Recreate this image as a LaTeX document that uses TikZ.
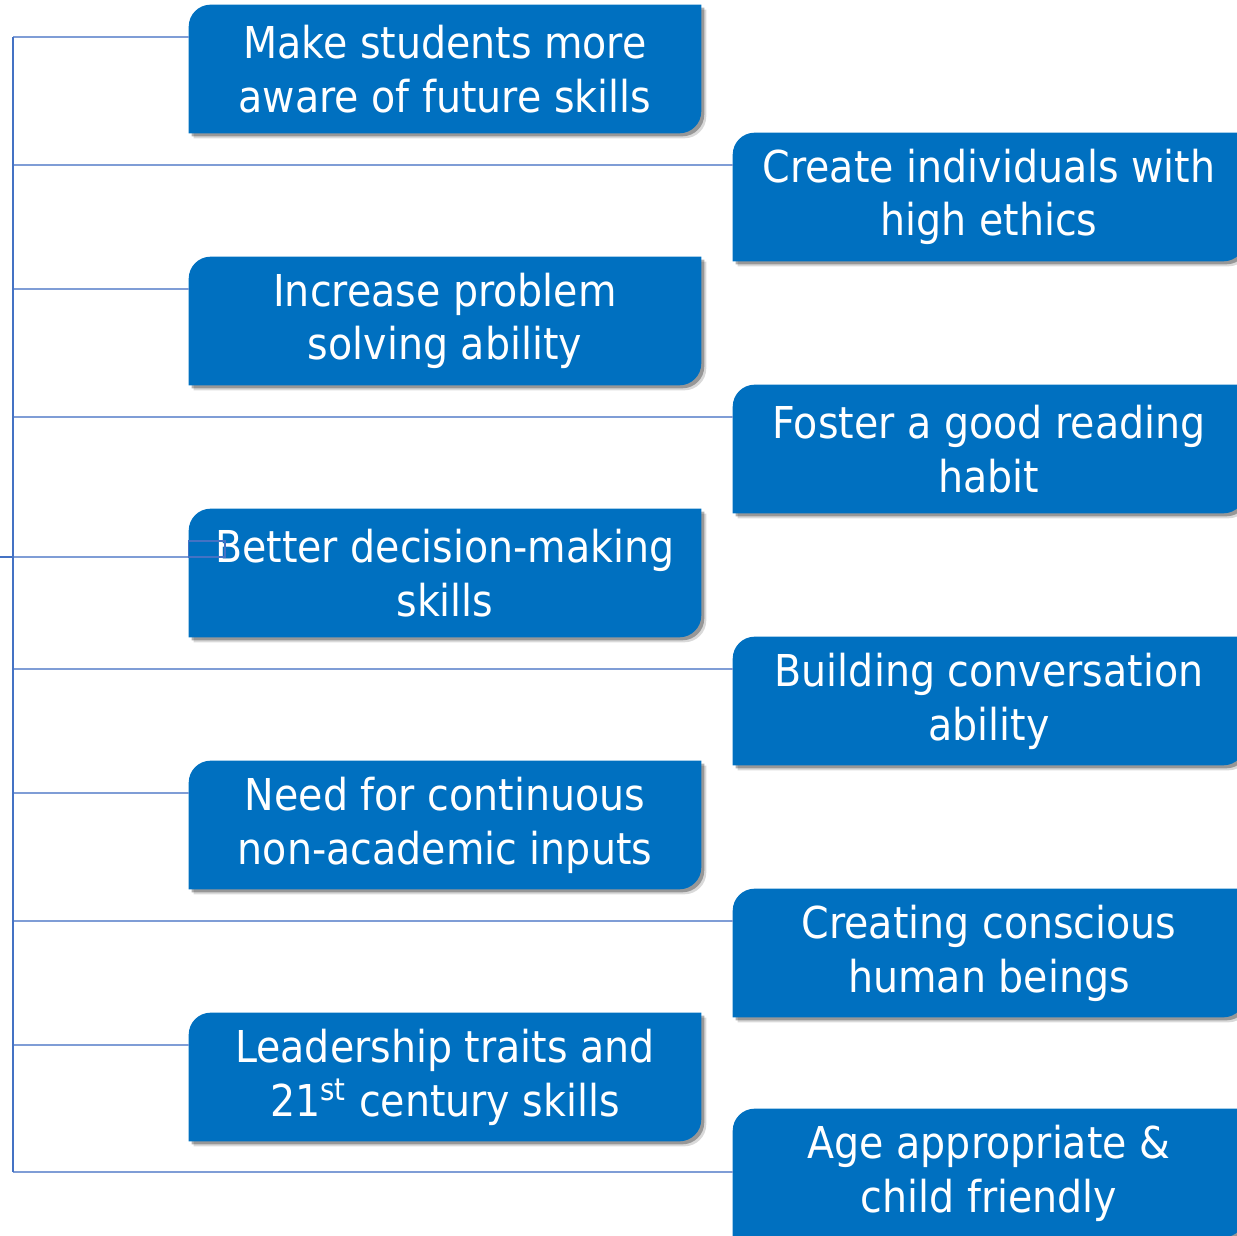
\documentclass[tikz,border=0pt]{standalone}
\usepackage{fontspec}
\setmainfont{DejaVu Sans}[FakeStretch=0.9]
\usetikzlibrary{backgrounds}

\definecolor{boxblue}{RGB}{0,112,192}
\definecolor{linkblue}{RGB}{127,157,214}
\definecolor{trunkblue}{RGB}{68,114,196}

\tikzset{
  skill/.style={text=white, align=center, inner sep=0pt,
    minimum width=10.24cm, minimum height=2.56cm,
    font=\fontsize{25}{30.6}\selectfont},
  link/.style={linkblue, line width=0.03cm},
  trunk/.style={trunkblue, line width=0.04cm},
}

% box outline: top left and bottom right corners rounded
\newcommand{\skillpath}[3]{([xshift=#2,yshift=#3]#1.south west)
  -- ([xshift=#2,yshift=#3,yshift=-0.44cm]#1.north west)
  arc[start angle=180,end angle=90,radius=0.44cm]
  -- ([xshift=#2,yshift=#3]#1.north east)
  -- ([xshift=#2,yshift=#3,yshift=0.44cm]#1.south east)
  arc[start angle=0,end angle=-90,radius=0.44cm] -- cycle}

\begin{document}
\begin{tikzpicture}[x=0.02cm, y=-0.02cm]
  \useasboundingbox (0,0) rectangle (1237,1236);
  \clip (0,0) rectangle (1237,1236);

  % left column
  \node[skill] (s1) at (445,69)   {Make students more\\aware of future skills};
  \node[skill] (s2) at (445,321)  {Increase problem\\solving ability};
  \node[skill] (s3) at (445,573)  {Better decision-making\\skills};
  \node[skill] (s4) at (445,825)  {Need for continuous\\non-academic inputs};
  \node[skill] (s5) at (445,1077) {Leadership traits and\\21\textsuperscript{st} century skills};

  % right column
  \node[skill] (r1) at (989,197)  {Create individuals with\\high ethics};
  \node[skill] (r2) at (989,449)  {Foster a good reading\\habit};
  \node[skill] (r3) at (989,701)  {Building conversation\\ability};
  \node[skill] (r4) at (989,953)  {Creating conscious\\human beings};
  \node[skill] (r5) at (989,1173) {Age appropriate \&\\child friendly};

  % box fills and shadows
  \begin{scope}[on background layer]
    \foreach \b in {s1,s2,s3,s4,s5,r1,r2,r3,r4,r5} {
      \fill[black, opacity=0.15] \skillpath{\b}{0.1cm}{-0.1cm};
      \fill[black, opacity=0.3] \skillpath{\b}{0.06cm}{-0.06cm};
      \fill[boxblue] \skillpath{\b}{0pt}{0pt};
    }
  \end{scope}

  % trunk points
  \coordinate (t1) at (13,37);
  \coordinate (t2) at (13,165);
  \coordinate (t3) at (13,289);
  \coordinate (t4) at (13,417);
  \coordinate (t5) at (13,669);
  \coordinate (t6) at (13,793);
  \coordinate (t7) at (13,921);
  \coordinate (t8) at (13,1045);
  \coordinate (t9) at (13,1172);
  \coordinate (root) at (0,557);

  % branches
  \draw[link] (t1) -- (t1 -| s1.west);
  \draw[link] (t2) -- (t2 -| r1.west);
  \draw[link] (t3) -- (t3 -| s2.west);
  \draw[link] (t4) -- (t4 -| r2.west);
  \draw[link] (root) -- (root -| s3.west);
  \draw[link] (t5) -- (t5 -| r3.west);
  \draw[link] (t6) -- (t6 -| s4.west);
  \draw[link] (t7) -- (t7 -| r4.west);
  \draw[link] (t8) -- (t8 -| s5.west);
  \draw[link] (t9) -- (t9 -| r5.west);

  % trunk
  \draw[trunk] (t1) -- (t9);
  \draw[trunk, line width=0.03cm] (root) -- (t1 |- root);

  % bit of branch showing on the box
  \draw[trunkblue, line width=0.03cm] (s3.west |- 0,541) rectangle (225,557);
\end{tikzpicture}
\end{document}
